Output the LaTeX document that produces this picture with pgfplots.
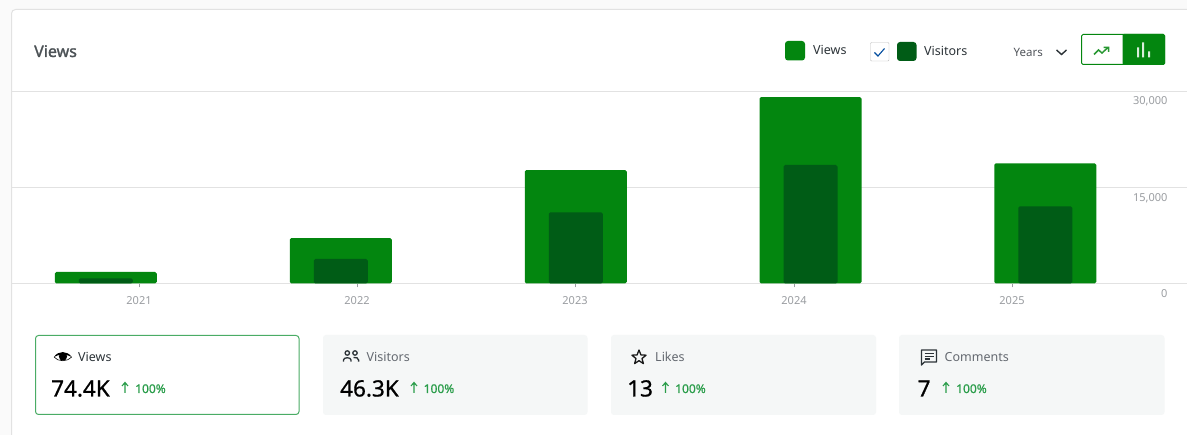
\documentclass[border=0pt]{standalone}
\usepackage{fontspec}
\setmainfont{Noto Sans}
\newfontface\semibd{Noto Sans}[FakeBold=1.6]
\newfontface\medbd{Noto Sans}[FakeBold=0.8]
\usepackage{pgfplots}
\pgfplotsset{compat=1.18}
\definecolor{gv}{HTML}{03860F}
\definecolor{gd}{HTML}{005C16}
\definecolor{gridc}{HTML}{E2E2E2}
\definecolor{tickt}{HTML}{9A9DA1}
\definecolor{ink}{HTML}{2C3338}
\definecolor{mute}{HTML}{646970}
\definecolor{upc}{HTML}{2A9D4A}
\definecolor{cardbg}{HTML}{F5F7F7}
\newcommand{\tx}[5]{\node[anchor=base west,inner sep=0pt,text=#4] at (#1,#2) {\fontsize{#3}{#3}\selectfont #5};}
\newcommand{\up}[1]{\draw[upc,line width=1.1pt] (#1,393) -- (#1,382.5) (#1-3,386) -- (#1,382.5) -- (#1+3,386);}
\begin{document}
\begin{tikzpicture}
\path[use as bounding box] (0,0) rectangle (1187pt,435pt);
\begin{scope}[x=1pt,y=-1pt,shift={(0pt,435pt)}]
\fill[white!98!black] (0,0) rectangle (1187,435);
\draw[fill=white,draw=gridc,line width=1pt,rounded corners=4pt] (11.5,9.5) rectangle (1200,450);
\end{scope}
\begin{axis}[
  at={(12pt,151.5pt)}, anchor=south west,
  scale only axis, width=1175pt, height=192.2pt,
  xmin=12, xmax=1187, ymin=0, ymax=30000,
  axis x line*=bottom, axis y line*=right,
  x axis line style={draw=gridc,line width=1pt,-},
  y axis line style={draw=none},
  ytick={0,15000,30000},
  yticklabels={0,{15,000},{30,000}},
  scaled y ticks=false,
  xtick={139,357,575,794,1012},
  xticklabels={2021,2022,2023,2024,2025},
  ymajorgrids, grid style={draw=gridc,line width=1pt},
  xtick pos=bottom,
  x tick style={draw=tickt,line width=0.8pt},
  y tick style={draw=none},
  major tick length=4pt,
  tick align=outside,
  x tick label style={anchor=base,inner sep=0pt,yshift=-17.5pt,text=tickt,font=\fontsize{11}{11}\selectfont},
  y tick label style={anchor=base east,inner sep=0pt,xshift=-23.3pt,yshift=-13.7pt,text=tickt,font=\fontsize{11}{11}\selectfont},
  ybar, bar shift=0pt,
]
\addplot[fill=gv,draw=none,bar width=102,rounded corners=1.6pt] coordinates {(105.75,1800) (340.75,7100) (575.75,17700) (810.5,29100) (1045.25,18750)};
\addplot[fill=gd,draw=none,bar width=54,rounded corners=1.6pt] coordinates {(105.75,800) (340.75,3830) (575.75,11100) (810.5,18500) (1045.25,12050)};
\end{axis}
\begin{scope}[x=1pt,y=-1pt,shift={(0pt,435pt)}]
% header
\node[anchor=base west,inner sep=0pt,text=ink!85!white] at (34,57) {\semibd\fontsize{16}{16}\selectfont Views};
\fill[gv,rounded corners=3pt] (785,41) rectangle (805,60.5);
\tx{813}{55}{12.5}{ink}{Views}
\draw[draw=black!25,fill=white,rounded corners=1pt] (870.5,42.5) rectangle (889,61);
\draw[black!20!blue!40!teal,line width=1.1pt] (874.5,52.5) -- (878,56) -- (884.5,48.5);
\fill[gd,rounded corners=3pt] (897,42) rectangle (916.5,61);
\tx{924}{56}{12.5}{ink}{Visitors}
\tx{1013.5}{57}{11.5}{mute!80!black}{Years}
\draw[ink,line width=1.4pt] (1056.5,50) -- (1061.5,54.5) -- (1066.5,50);
% toggle
\draw[gv,fill=white,line width=1pt,rounded corners=1.5pt] (1081.5,34.5) rectangle (1164.5,64.5);
\fill[gv,rounded corners=1.5pt] (1122.5,34) rectangle (1165,65);
\fill[gv] (1122.5,34) rectangle (1126,65);
\draw[gv!85!white,line width=1.5pt] (1094,54.5) -- (1098.5,50) -- (1102,53) -- (1108,47.5) (1103.5,47.5) -- (1108.5,47.5) -- (1108.5,52);
\fill[white!85!gv] (1137,47.5) rectangle (1139,57.5) (1142,42.5) rectangle (1144,57.5) (1148,51.5) rectangle (1150,57.5);
% cards
\draw[fill=white,draw=upc!85!white,line width=1pt,rounded corners=3pt] (35.5,335.5) rectangle (299,414.5);
\fill[cardbg,rounded corners=3pt] (323,335) rectangle (587.5,415);
\fill[cardbg,rounded corners=3pt] (611,335) rectangle (876,415);
\fill[cardbg,rounded corners=3pt] (899,335) rectangle (1164.5,415);
% card 1
\fill[black] (54,357) .. controls (58,350.5) and (67.5,350.5) .. (71.7,357) .. controls (67.5,354) and (58,354) .. (54,357) -- cycle;
\fill[black] (63,356.6) circle[radius=4.1];
\draw[black,line width=.6pt] (54,357) .. controls (58,362) and (67.5,362) .. (71.7,357);
\tx{78}{361.5}{12.5}{ink}{Views}
\tx{51}{396.5}{22.5}{black}{\medbd 74.4K}
\up{125}
\tx{135}{393}{12}{upc}{\medbd 100\%}
% card 2
\begin{scope}[ink,line width=1.3pt]
\draw (347.3,353) circle[radius=2.2]; \draw (355,353) circle[radius=2.2];
\draw (343.5,361.7) -- (343.5,360) .. controls (343.5,357) and (351,357) .. (351,360) -- (351,361.7);
\draw (353.5,357.5) .. controls (356,357) and (358.6,358) .. (358.6,360) -- (358.6,361.7);
\end{scope}
\tx{366.5}{361.5}{12.5}{mute}{Visitors}
\tx{340}{396.5}{22.5}{black}{\medbd 46.3K}
\up{414}
\tx{423.5}{393}{12}{upc}{\medbd 100\%}
% card 3
\draw[black!90,line width=1.3pt,line join=round] (639,350) -- (640.9,354.9) -- (646.1,355.2) -- (642,358.5) -- (643.4,363.6) -- (639,360.7) -- (634.6,363.6) -- (636,358.5) -- (631.9,355.2) -- (637.1,354.9) -- cycle;
\tx{655}{361.5}{12.5}{mute}{Likes}
\tx{627}{396.5}{22.5}{black}{\medbd 13}
\up{665.5}
\tx{675}{393}{12}{upc}{\medbd 100\%}
% card 4
\draw[ink,line width=1.4pt,line join=round] (921.5,365) -- (921.5,350) -- (936.5,350) -- (936.5,362) -- (924.5,362) -- cycle;
\draw[ink,line width=1.2pt] (924.5,353.5) -- (933.5,353.5) (924.5,356.3) -- (933.5,356.3) (924.5,359) -- (930,359);
\tx{944.5}{361.5}{12.5}{mute}{Comments}
\tx{917.5}{396.5}{22.5}{black}{\medbd 7}
\up{946}
\tx{956}{393}{12}{upc}{\medbd 100\%}
\end{scope}
\end{tikzpicture}
\end{document}
